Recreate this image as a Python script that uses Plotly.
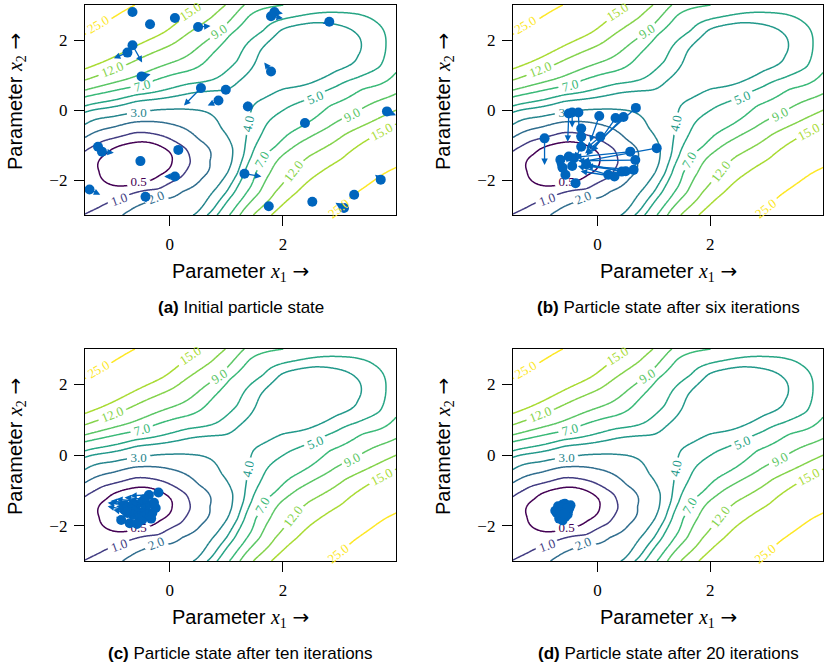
import numpy as np
import plotly.graph_objects as go
from plotly.colors import sample_colorscale

# ---------------- data ----------------
x_range = [-1.5, 4.0]
y_range = [-3.0, 3.0]
x_ticks = [0, 2]
y_ticks = [-2, 0, 2]
levels = [0.5, 1.0, 2.0, 3.0, 4.0, 5.0, 7.0, 9.0, 12.0, 15.0, 25.0]

# coarse landscape: mixture of quadratic wells, f = -log(sum exp(-Q_k))
well_cx = [-0.6, 2.6, -1.75]
well_cy = [-1.55, 1.6, -2.95]
well_offset = [0.0, 3.2, 1.0]
well_angle = [45.0, 48.0, 38.0]
well_along = [0.85, 0.6, 0.8]
well_across = [1.85, 2.3, 1.75]

# points, one pair of lists per level
c05_x = [-0.19, 0.02, -0.16, -0.63, -1.10, -1.22, -1.04, -0.75, -0.45]
c05_y = [-1.84, -1.46, -1.04, -0.94, -1.27, -1.75, -2.12, -2.17, -2.05]
c1_x = [-1.50, -1.20, -0.60, -0.10, 0.30, 0.38, 0.20, -0.20, -0.90, -1.25, -1.50]
c1_y = [-1.15, -0.88, -0.63, -0.75, -1.10, -1.50, -1.95, -2.30, -2.56, -2.80, -2.98]
c2_x = [-1.50, -1.00, -0.60, 0.00, 0.50, 0.67, 0.55, 0.20, -0.25, -0.60, -0.85]
c2_y = [-0.80, -0.50, -0.33, -0.40, -0.85, -1.46, -1.95, -2.30, -2.51, -2.75, -3.00]
c3_x = [-1.50, -1.00, -0.55, 0.00, 0.43, 0.90, 1.12, 1.10, 1.02, 0.75, 0.45]
c3_y = [-0.42, -0.20, -0.10, 0.02, 0.00, -0.52, -1.10, -1.50, -1.80, -2.35, -3.00]
c4_x = [-1.50, -0.60, 0.20, 0.78, 1.20, 1.45, 1.60, 1.96, 2.55, 3.10, 3.36, 3.30, 2.94, 2.64, 2.00,
        1.55, 1.45, 1.38, 1.33, 1.30, 1.20, 1.00, 0.65]
c4_y = [-0.05, 0.25, 0.42, 0.56, 0.80, 1.20, 1.70, 2.30, 2.50, 2.38, 2.07, 1.55, 1.13, 0.87, 0.62,
        0.25, -0.05, -0.39, -1.00, -1.32, -1.80, -2.35, -3.00]
c5_x = [-1.50, -0.60, 0.31, 0.90, 1.20, 1.67, 2.26, 3.03, 3.62, 3.82, 3.73, 3.30, 2.94, 2.56, 2.10,
        1.80, 1.68, 1.55, 1.45, 1.33, 1.15, 0.85]
c5_y = [0.12, 0.45, 0.75, 0.98, 1.40, 2.26, 2.68, 2.78, 2.54, 1.90, 1.22, 0.90, 0.66, 0.37, 0.10,
        -0.25, -0.50, -0.90, -1.32, -1.80, -2.35, -3.00]
c7_x = [-1.50, -0.60, 0.30, 0.75, 1.05, 1.40, 2.05, 1.05, 1.35, 1.50, 1.67, 1.88, 2.30, 2.82, 3.40, 4.00]
c7_y = [0.38, 0.66, 1.10, 1.60, 2.15, 2.70, 3.00, -3.00, -2.35, -1.80, -1.32, -1.04, -0.50, 0.14, 0.62, 1.10]
c9_x = [-1.50, -0.60, 0.30, 0.87, 1.30, 1.25, 1.60, 1.78, 1.97, 2.40, 2.80, 3.23, 4.00]
c9_y = [0.57, 0.97, 1.55, 2.22, 3.00, -3.00, -2.35, -1.80, -1.32, -0.85, -0.50, -0.14, 0.45]
c12_x = [-1.50, -1.01, -0.60, 0.20, 0.75, 1.00, 1.46, 1.85, 2.13, 2.45, 3.10, 3.34, 3.94]
c12_y = [0.85, 1.13, 1.42, 2.05, 2.65, 3.00, -3.00, -2.35, -1.80, -1.32, -0.68, -0.50, -0.05]
c15_x = [-1.50, -0.70, 0.02, 0.50, 1.80, 2.25, 2.65, 3.05, 3.70, 4.00]
c15_y = [1.18, 1.75, 2.36, 3.00, -3.00, -2.35, -1.80, -1.40, -0.66, -0.40]
c25_x = [-1.50, -1.34, -1.04, -0.66, 2.85, 3.26, 3.80, 4.00]
c25_y = [2.15, 2.35, 2.60, 2.97, -3.00, -2.41, -1.80, -1.65]
# a few interior values (minimum, second basin, saddle, corners)
extra_x = [-0.62, 2.45, 1.35, 3.95, -1.50, -1.50]
extra_y = [-1.58, 1.55, 0.40, 2.90, -1.80, -2.50]
extra_v = [0.00, 3.15, 3.75, 5.90, 0.70, 0.90]

# inline contour labels: level, position, screen angle
label_lev = [25.0, 15.0, 12.0, 9.0, 7.0, 5.0, 4.0, 7.0, 12.0, 25.0, 9.0, 15.0, 1.0, 2.0, 3.0, 0.5]
label_x = [-1.27, 0.36, -1.02, 0.87, -0.49, 2.57, 1.39, 1.63, 2.18, 2.98, 3.23, 3.75, -0.90, -0.25, -0.55, -0.55]
label_y = [2.43, 2.81, 1.15, 2.23, 0.71, 0.36, -0.39, -1.42, -1.75, -2.80, -0.14, -0.60, -2.56, -2.51, -0.10, -2.09]
label_angle = [-30, -33, -22, -33, -15, -23, -78, -60, -52, -38, -27, -28, -20, -22, -8, -12]

# (a) initial particle state: position and velocity arrow end
a_x = [-0.66, -0.35, 0.09, 0.50, 1.79, 1.85, 2.82, -0.66, -0.75, -0.50, 1.79, 0.55, 0.99, 0.86, 1.38,
       3.84, 2.39, -1.27, -1.20, 0.15, -0.52, 0.09, 1.32, 3.73, -1.42, -0.43, 3.26, 1.75, 2.52, 3.08]
a_y = [2.80, 2.45, 2.63, 2.37, 2.68, 2.80, 2.52, 1.85, 1.64, 0.96, 1.10, 0.63, 0.58, 0.27, 0.10,
       -0.04, -0.37, -1.05, -1.19, -1.14, -1.46, -1.90, -1.82, -1.99, -2.27, -2.48, -2.42, -2.75, -2.62, -2.80]
a_ex = [-0.66, -0.35, 0.09, 0.72, 2.00, 2.00, 2.70, -0.49, -0.99, -0.34, 1.67, 0.25, 0.99, 0.67, 1.38,
        4.00, 2.39, -1.27, -0.99, 0.15, -0.52, -0.10, 1.62, 3.63, -1.23, -0.42, 3.26, 1.75, 2.52, 2.93]
a_ey = [2.80, 2.45, 2.63, 2.40, 2.62, 2.76, 2.47, 1.36, 1.48, 1.02, 1.36, 0.13, 0.58, 0.13, 0.26,
        -0.15, -0.47, -1.05, -1.22, -1.14, -1.46, -1.90, -1.90, -1.85, -2.42, -2.65, -2.42, -2.75, -2.62, -2.65]

# (b) after six iterations
b_x = [-0.94, -0.51, -0.45, -0.34, -0.29, 0.03, 0.05, 0.32, 0.46, 0.68, -0.29, -0.66, -0.51, -0.42,
       -0.57, -0.39, 0.19, 0.43, 0.58, 0.67, 0.64, 1.05, -0.29, 0.30, -0.62, -0.20, 0.50, -0.45]
b_y = [-0.81, -0.10, -0.07, -0.07, -0.53, -0.17, -0.76, -0.23, -0.20, 0.06, -1.05, -1.42, -1.33, -1.38,
       -1.85, -2.09, -1.85, -1.76, -1.19, -1.43, -1.71, -1.09, -0.76, -1.90, -1.65, -1.55, -1.75, -1.60]
b_ex = [-0.94, -0.53, -0.45, -0.32, -0.30, -0.13, -0.20, -0.10, -0.20, -0.22, -0.40, -0.70, -0.55, -0.45,
        -0.60, -0.39, -0.35, -0.30, -0.40, -0.35, -0.20, -0.26, -0.29, -0.30, -0.62, -0.30, -0.20, -0.45]
b_ey = [-1.57, -0.91, -0.50, -0.91, -0.80, -0.91, -1.10, -1.20, -1.30, -1.24, -1.40, -1.70, -1.50, -1.50,
        -1.90, -2.09, -1.60, -1.50, -1.35, -1.45, -1.60, -1.47, -1.00, -1.75, -1.65, -1.60, -1.60, -1.60]

# (c) after ten iterations
c_x = [-0.20, -0.37, -0.49, -0.64, -0.79, -0.86, -0.71, -0.54, -0.43, -0.31, -0.25, -0.75, -0.69,
       -0.49, -0.60, -0.40, -0.33, -0.55, -0.65, -0.45, -0.28, -0.80, -0.58, -0.38]
c_y = [-1.06, -1.13, -1.32, -1.37, -1.42, -1.84, -1.93, -1.64, -1.55, -1.64, -1.50, -1.64, -1.50,
       -1.84, -1.45, -1.40, -1.80, -1.75, -1.70, -1.25, -1.35, -1.55, -1.95, -1.70]
c_ex = [-0.45, -0.70, -0.95, -1.05, -1.10, -0.95, -0.80, -0.75, -0.70, -0.50, -0.55, -1.00, -0.95,
        -0.60, -0.95, -0.70, -0.45, -0.80, -0.90, -0.80, -0.60, -1.10, -0.70, -0.55]
c_ey = [-1.10, -1.15, -1.25, -1.30, -1.35, -1.75, -1.85, -1.60, -1.45, -1.60, -1.45, -1.55, -1.45,
        -1.80, -1.35, -1.35, -1.75, -1.65, -1.60, -1.20, -1.30, -1.45, -1.85, -1.65]

# (d) after 20 iterations
d_x = [-0.62, -0.58, -0.55, -0.50, -0.66, -0.70, -0.72, -0.60, -0.52, -0.48, -0.64, -0.68, -0.57,
       -0.53, -0.75, -0.62, -0.55, -0.70, -0.66, -0.59]
d_y = [-1.40, -1.38, -1.45, -1.50, -1.48, -1.55, -1.65, -1.60, -1.58, -1.42, -1.72, -1.80, -1.75,
       -1.68, -1.58, -1.85, -1.52, -1.45, -1.62, -1.66]

captions = ["<b>(a)</b> Initial particle state",
            "<b>(b)</b> Particle state after six iterations",
            "<b>(c)</b> Particle state after ten iterations",
            "<b>(d)</b> Particle state after 20 iterations"]

# ---------------- style / layout ----------------
W, H = 824, 664
BLUE = "#0065bd"
panel_px = [(85, 396, 5, 215), (513, 823, 5, 215), (85, 396, 349, 561), (513, 823, 349, 561)]
SANS = "Liberation Sans, Arial, sans-serif"
SERIF = "Liberation Serif, DejaVu Serif, serif"
LABEL_SIZE = 13
PX_X = 311 / (x_range[1] - x_range[0])
PX_Y = 211 / (y_range[1] - y_range[0])


def coarse(X, Y):
    qs = []
    for cx, cy, off, ang, au, av in zip(well_cx, well_cy, well_offset, well_angle, well_along, well_across):
        t = np.deg2rad(ang)
        dx, dy = X - cx, Y - cy
        u = dx * np.cos(t) + dy * np.sin(t)
        v = dx * np.sin(t) - dy * np.cos(t)
        qs.append(off + au * u ** 2 + av * v ** 2)
    Q = np.stack(qs)
    m = Q.min(axis=0)
    return m - np.log(np.exp(-(Q - m)).sum(axis=0))


def tps_kernel(r):
    with np.errstate(divide="ignore", invalid="ignore"):
        k = r ** 2 * np.log(r)
    return np.where(r > 0, k, 0.0)


# thin-plate correction so that the landscape passes the read contour points
pts = [(c05_x, c05_y, 0.5), (c1_x, c1_y, 1.0), (c2_x, c2_y, 2.0), (c3_x, c3_y, 3.0), (c4_x, c4_y, 4.0),
       (c5_x, c5_y, 5.0), (c7_x, c7_y, 7.0), (c9_x, c9_y, 9.0), (c12_x, c12_y, 12.0), (c15_x, c15_y, 15.0),
       (c25_x, c25_y, 25.0)]
tx = np.concatenate([np.array(p[0], float) for p in pts] + [np.array(extra_x, float)])
ty = np.concatenate([np.array(p[1], float) for p in pts] + [np.array(extra_y, float)])
tl = np.concatenate([np.full(len(p[0]), p[2]) for p in pts] + [np.array(extra_v, float)])
res = tl - coarse(tx, ty)
n = len(tx)
Rm = np.hypot(tx[:, None] - tx[None, :], ty[:, None] - ty[None, :])
A = np.zeros((n + 3, n + 3))
A[:n, :n] = tps_kernel(Rm) + 0.04 * np.eye(n)
A[:n, n], A[:n, n + 1], A[:n, n + 2] = 1.0, tx, ty
A[n, :n], A[n + 1, :n], A[n + 2, :n] = 1.0, tx, ty
sol = np.linalg.solve(A, np.concatenate([res, np.zeros(3)]))

gx = np.linspace(x_range[0], x_range[1], 276)
gy = np.linspace(y_range[0], y_range[1], 301)
GX, GY = np.meshgrid(gx, gy)
Rg = np.hypot(GX.ravel()[:, None] - tx[None, :], GY.ravel()[:, None] - ty[None, :])
corr = tps_kernel(Rg) @ sol[:n] + sol[n] + sol[n + 1] * GX.ravel() + sol[n + 2] * GY.ravel()
Z = coarse(GX, GY) + corr.reshape(GX.shape)

tvals = [np.log(l / levels[0]) / np.log(levels[-1] / levels[0]) for l in levels]
lcolors = sample_colorscale("Viridis", tvals)
lev_color = dict(zip(levels, lcolors))


def label_text(lev):
    return f"{lev:.1f}"


# per-level field with a gap cut where that level's inline labels sit
Zlev = {}
for lev in levels:
    Zl = Z.copy()
    for L, lx, ly, ang in zip(label_lev, label_x, label_y, label_angle):
        if L != lev:
            continue
        th = np.deg2rad(ang)
        sx = (GX - lx) * PX_X
        sy = -(GY - ly) * PX_Y
        along = sx * np.cos(th) + sy * np.sin(th)
        across = -sx * np.sin(th) + sy * np.cos(th)
        half = 0.5 * LABEL_SIZE * (0.5 * (len(label_text(lev)) - 1) + 0.25) + 3
        Zl[(np.abs(along) < half) & (np.abs(across) < 8)] = np.nan
    Zlev[lev] = Zl

fig = go.Figure()
particles = [(a_x, a_y, a_ex, a_ey), (b_x, b_y, b_ex, b_ey), (c_x, c_y, c_ex, c_ey), (d_x, d_y, None, None)]
under_levels = [0.5, 3.0]   # labels that the particle clouds are drawn over

annotations = []
for k in range(4):
    xa = "x" if k == 0 else f"x{k+1}"
    ya = "y" if k == 0 else f"y{k+1}"
    for lev in levels:
        col = lev_color[lev]
        fig.add_trace(go.Contour(
            x=gx, y=gy, z=Zlev[lev], xaxis=xa, yaxis=ya, connectgaps=False,
            autocontour=False,
            contours=dict(start=lev, end=lev, size=1.0, coloring="lines", showlabels=False),
            colorscale=[[0, col], [1, col]], showscale=False,
            line=dict(width=1.5), hoverinfo="skip"))
    for L, lx, ly, ang in zip(label_lev, label_x, label_y, label_angle):
        if L in under_levels:
            fig.add_trace(go.Scatter(x=[lx], y=[ly], mode="text", text=[label_text(L)], xaxis=xa, yaxis=ya,
                                     textfont=dict(family=SERIF, size=LABEL_SIZE, color=lev_color[L]),
                                     hoverinfo="skip", showlegend=False))
        else:
            annotations.append(dict(x=lx, y=ly, xref=xa, yref=ya, text=label_text(L), showarrow=False,
                                    textangle=ang, xanchor="center", yanchor="middle",
                                    font=dict(family=SERIF, size=LABEL_SIZE, color=lev_color[L])))
    px, py, ex, ey = particles[k]
    if ex is not None:
        for x0, y0, x1, y1 in zip(px, py, ex, ey):
            if abs(x1 - x0) + abs(y1 - y0) < 0.02:
                continue
            annotations.append(dict(x=x1, y=y1, ax=x0, ay=y0, xref=xa, yref=ya, axref=xa, ayref=ya,
                                    showarrow=True, text="", arrowhead=2, arrowsize=1.0,
                                    arrowwidth=1.3, arrowcolor=BLUE))
    fig.add_trace(go.Scatter(x=px, y=py, mode="markers", xaxis=xa, yaxis=ya,
                             marker=dict(size=10, color=BLUE), hoverinfo="skip", showlegend=False))

title_x1 = (f"Parameter <span style='font-family:{SERIF}'><i>x</i><sub>1</sub></span> "
            f"<span style='font-family:DejaVu Sans'>→</span>")
title_x2 = (f"Parameter <span style='font-family:{SERIF}'><i>x</i><sub>2</sub></span> "
            f"<span style='font-family:DejaVu Sans'>→</span>")

layout = dict(width=W, height=H, margin=dict(l=0, r=0, t=0, b=0),
              plot_bgcolor="white", paper_bgcolor="white", showlegend=False)
axis_common = dict(showline=True, mirror=True, linecolor="black", linewidth=1.3,
                   ticks="outside", ticklen=10, tickwidth=1.3, tickcolor="black",
                   showgrid=False, zeroline=False, ticklabelstandoff=3,
                   tickfont=dict(family=SERIF, size=17, color="black"))
for k, (l, r, t, b) in enumerate(panel_px):
    xn = "xaxis" if k == 0 else f"xaxis{k+1}"
    yn = "yaxis" if k == 0 else f"yaxis{k+1}"
    ya = "y" if k == 0 else f"y{k+1}"
    xa = "x" if k == 0 else f"x{k+1}"
    layout[xn] = dict(domain=[l / W, r / W], range=x_range, anchor=ya, tickvals=x_ticks, **axis_common)
    layout[yn] = dict(domain=[1 - b / H, 1 - t / H], range=y_range, anchor=xa, tickvals=y_ticks, **axis_common)
    cx = (l + r) / 2
    annotations.append(dict(x=cx / W, y=1 - (b + 57) / H, xref="paper", yref="paper", showarrow=False,
                            text=title_x1, font=dict(family=SANS, size=20, color="black"),
                            xanchor="center", yanchor="middle"))
    annotations.append(dict(x=cx / W, y=1 - (b + 92) / H, xref="paper", yref="paper", showarrow=False,
                            text=captions[k], font=dict(family=SANS, size=17, color="black"),
                            xanchor="center", yanchor="middle"))
    annotations.append(dict(x=(l - 69) / W, y=1 - ((t + b) / 2 - 8) / H, xref="paper", yref="paper",
                            showarrow=False, textangle=-90,
                            text=title_x2, font=dict(family=SANS, size=20, color="black"),
                            xanchor="center", yanchor="middle"))
layout["annotations"] = annotations
fig.update_layout(**layout)
fig.write_html("out.html", config={"displayModeBar": False},
               post_script="document.body.style.margin='0px';")
